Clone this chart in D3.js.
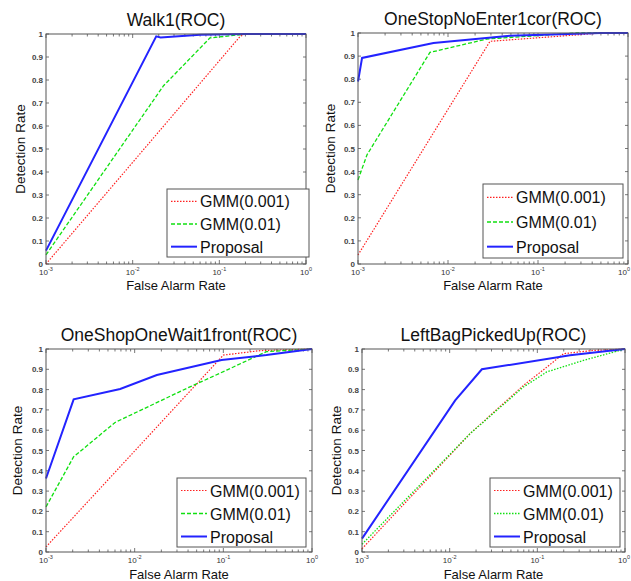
<!DOCTYPE html>
<html>
<head>
<meta charset="utf-8">
<script src="https://cdn.jsdelivr.net/npm/d3@7"></script>
<style>
  body { margin: 0; background: #fff; }
  svg { display: block; font-family: "Liberation Sans", Arial, sans-serif; }
</style>
</head>
<body>
<svg id="chart" width="631" height="581"></svg>
<script>
// ---- data: [false alarm rate, detection rate] ----
const walk1Gmm001 = [[0.001, 0], [0.174, 0.99], [0.2, 1], [1, 1]];
const walk1Gmm01 = [[0.001, 0.04], [0.0227, 0.775], [0.078, 0.983], [0.207, 1], [1, 1]];
const walk1Proposal = [[0.001, 0.058], [0.0187, 0.99], [0.021, 0.985], [0.06, 0.997], [0.2, 1], [1, 1]];

const stopGmm001 = [[0.001, 0.039], [0.0293, 0.964], [0.2, 0.988], [0.5, 1], [1, 1]];
const stopGmm01 = [[0.001, 0.364], [0.00126, 0.473], [0.0063, 0.916], [0.027, 0.974], [0.267, 1], [1, 1]];
const stopProposal = [[0.001, 0.79], [0.00111, 0.892], [0.0069, 0.957], [0.0487, 0.988], [0.5, 1], [1, 1]];

const shopGmm001 = [[0.001, 0.025], [0.1, 0.97], [0.26, 0.992], [1, 1]];
const shopGmm01 = [[0.001, 0.222], [0.00205, 0.469], [0.006, 0.638], [0.0386, 0.806], [0.109, 0.896], [0.306, 0.987], [1, 1]];
const shopProposal = [[0.001, 0.362], [0.00205, 0.752], [0.00686, 0.803], [0.0178, 0.872], [0.0955, 0.946], [0.306, 0.97], [1, 1]];

const bagGmm001 = [[0.001, 0.016], [0.0171, 0.583], [0.0695, 0.821], [0.117, 0.897], [0.199, 0.977], [0.435, 0.993], [1, 1]];
const bagGmm01 = [[0.001, 0.038], [0.0171, 0.583], [0.0695, 0.813], [0.128, 0.887], [0.336, 0.944], [1, 1]];
const bagProposal = [[0.001, 0.066], [0.01156, 0.747], [0.0233, 0.9], [0.236, 0.969], [1, 1]];

const titles = ['Walk1(ROC)', 'OneStopNoEnter1cor(ROC)', 'OneShopOneWait1front(ROC)', 'LeftBagPickedUp(ROC)'];
const seriesNames = ['GMM(0.001)', 'GMM(0.01)', 'Proposal'];
const yTicks = [0, 0.1, 0.2, 0.3, 0.4, 0.5, 0.6, 0.7, 0.8, 0.9, 1];
const xMajor = [0.001, 0.01, 0.1, 1];
const xExponents = ['-3', '-2', '-1', '0'];

// ---- layout ----
const W = 631;
const panels = [
  { title: titles[0], data: [walk1Gmm001, walk1Gmm01, walk1Proposal], l: 46, r: 306, t: 34, b: 264, ylx: 21, xly: 290, leg: [167, 189, 142, 68], greenDot: false },
  { title: titles[1], data: [stopGmm001, stopGmm01, stopProposal], l: 358, r: 628, t: 33, b: 264, ylx: 331, xly: 290, leg: [483, 184, 140, 74], greenDot: false },
  { title: titles[2], data: [shopGmm001, shopGmm01, shopProposal], l: 46, r: 312, t: 349, b: 552, ylx: 18, xly: 579, leg: [177, 478, 129, 69], greenDot: false },
  { title: titles[3], data: [bagGmm001, bagGmm01, bagProposal], l: 362, r: 625, t: 349, b: 552, ylx: 337, xly: 579, leg: [490, 478, 130, 69], greenDot: true }
];

const styles = [
  { color: '#ff2020', width: 1.2, dash: '1.5,1.5' },
  { color: '#10e010', width: 1.3, dash: '4,2' },
  { color: '#2323ff', width: 2, dash: null }
];

const svg = d3.select('#chart');
const axisColor = '#555';

panels.forEach(p => {
  const x = d3.scaleLog().domain([0.001, 1]).range([p.l, p.r]);
  const y = d3.scaleLinear().domain([0, 1]).range([p.b, p.t]);
  const g = svg.append('g');

  g.append('rect')
    .attr('x', p.l).attr('y', p.t)
    .attr('width', p.r - p.l).attr('height', p.b - p.t)
    .attr('fill', '#fff');

  // minor + major x ticks, inward on bottom and top
  const minor = [];
  for (let e = -3; e < 0; e++) {
    for (let k = 2; k <= 9; k++) minor.push(k * Math.pow(10, e));
  }
  minor.forEach(v => {
    g.append('line').attr('x1', x(v)).attr('x2', x(v)).attr('y1', p.b).attr('y2', p.b - 2.5)
      .attr('stroke', axisColor).attr('stroke-width', 0.8);
    g.append('line').attr('x1', x(v)).attr('x2', x(v)).attr('y1', p.t).attr('y2', p.t + 2.5)
      .attr('stroke', axisColor).attr('stroke-width', 0.8);
  });
  xMajor.forEach((v, i) => {
    g.append('line').attr('x1', x(v)).attr('x2', x(v)).attr('y1', p.b).attr('y2', p.b - 4)
      .attr('stroke', axisColor).attr('stroke-width', 0.8);
    g.append('line').attr('x1', x(v)).attr('x2', x(v)).attr('y1', p.t).attr('y2', p.t + 4)
      .attr('stroke', axisColor).attr('stroke-width', 0.8);
    // keep the last label inside the window
    const edge = x(v) + 9 > W;
    const tx = g.append('text')
      .attr('x', edge ? W - 1 : x(v)).attr('y', p.b + 11)
      .attr('text-anchor', edge ? 'end' : 'middle')
      .attr('font-size', 8).attr('fill', '#333');
    tx.append('tspan').text('10');
    tx.append('tspan').attr('dy', -4).attr('font-size', 5.5).text(xExponents[i]);
  });

  // y ticks both sides
  yTicks.forEach(v => {
    g.append('line').attr('x1', p.l).attr('x2', p.l + 3).attr('y1', y(v)).attr('y2', y(v))
      .attr('stroke', axisColor).attr('stroke-width', 0.8);
    g.append('line').attr('x1', p.r).attr('x2', p.r - 3).attr('y1', y(v)).attr('y2', y(v))
      .attr('stroke', axisColor).attr('stroke-width', 0.8);
    g.append('text')
      .attr('x', p.l - 3).attr('y', y(v) + 3)
      .attr('text-anchor', 'end')
      .attr('font-size', 8).attr('font-weight', 'bold').attr('fill', '#444')
      .text(d3.format('~g')(v));
  });

  // lines
  const line = d3.line().x(d => x(d[0])).y(d => y(d[1]));
  p.data.forEach((s, i) => {
    const st = styles[i];
    let dash = st.dash;
    if (i === 1 && p.greenDot) dash = '1.5,1.5';
    g.append('path')
      .datum(s)
      .attr('d', line)
      .attr('fill', 'none')
      .attr('stroke', st.color)
      .attr('stroke-width', st.width)
      .attr('stroke-dasharray', dash);
  });

  // frame
  g.append('rect')
    .attr('x', p.l).attr('y', p.t)
    .attr('width', p.r - p.l).attr('height', p.b - p.t)
    .attr('fill', 'none').attr('stroke', axisColor).attr('stroke-width', 1);

  // title and axis labels
  g.append('text')
    .attr('x', (p.l + p.r) / 2).attr('y', p.t - 8)
    .attr('text-anchor', 'middle')
    .attr('font-size', 17.5).attr('fill', '#111')
    .text(p.title);
  g.append('text')
    .attr('x', (p.l + p.r) / 2).attr('y', p.xly)
    .attr('text-anchor', 'middle')
    .attr('font-size', 13).attr('fill', '#111')
    .text('False Alarm Rate');
  g.append('text')
    .attr('transform', `translate(${p.ylx},${(p.t + p.b) / 2}) rotate(-90)`)
    .attr('text-anchor', 'middle')
    .attr('dominant-baseline', 'middle')
    .attr('font-size', 13.5).attr('fill', '#111')
    .text('Detection Rate');

  // legend
  const [lx, ly, lw, lh] = p.leg;
  const leg = g.append('g');
  leg.append('rect')
    .attr('x', lx).attr('y', ly).attr('width', lw).attr('height', lh)
    .attr('fill', '#fff').attr('stroke', axisColor).attr('stroke-width', 1);
  const step = lh / 3;
  seriesNames.forEach((name, i) => {
    const cy = ly + step * (i + 0.5) + 1;
    const st = styles[i];
    let dash = st.dash;
    if (i === 1 && p.greenDot) dash = '1.5,1.5';
    leg.append('line')
      .attr('x1', lx + 4).attr('x2', lx + 30).attr('y1', cy).attr('y2', cy)
      .attr('stroke', st.color).attr('stroke-width', st.width)
      .attr('stroke-dasharray', dash);
    leg.append('text')
      .attr('x', lx + 33).attr('y', cy + 6)
      .attr('font-size', 16).attr('fill', '#111')
      .text(name);
  });
});
</script>
</body>
</html>
